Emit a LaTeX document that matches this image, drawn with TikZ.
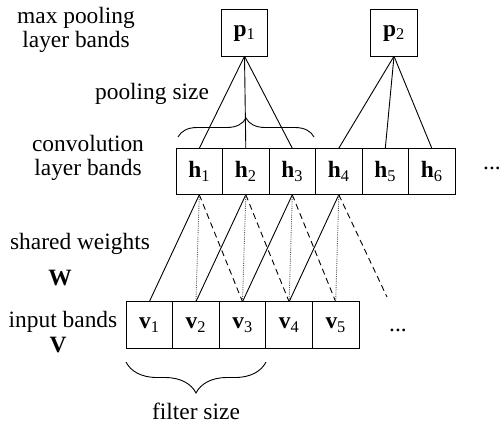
\documentclass[tikz,border=0pt]{standalone}
\usepackage{fontspec}
\setmainfont{Liberation Serif}
\usetikzlibrary{decorations.pathreplacing}

\begin{document}
\begin{tikzpicture}[x=1bp,y=-1bp,font=\fontsize{23.5}{24}\selectfont,
    band/.style={draw,line width=0.9bp,minimum width=46.5bp,minimum height=46.5bp,inner sep=0pt,outer sep=0pt},
    link/.style={line width=0.9bp},
    sameband/.style={black!65,line width=0.9bp,dash pattern=on 1bp off 1.2bp},
    nextband/.style={dashed,line width=0.9bp,dash pattern=on 6bp off 4bp}]
    \useasboundingbox (0,0) rectangle (503,424);

    % input bands
    \node[band] (v1) at (149.3,325) {\textbf{v}\textsubscript{1}};
    \node[band] (v2) at (195.9,325) {\textbf{v}\textsubscript{2}};
    \node[band] (v3) at (242.5,325) {\textbf{v}\textsubscript{3}};
    \node[band] (v4) at (289.1,325) {\textbf{v}\textsubscript{4}};
    \node[band] (v5) at (335.7,325) {\textbf{v}\textsubscript{5}};
    \coordinate (v6) at (387,297);
    \node (vdots) at (398,330) {...};

    % convolution bands
    \node[band] (h1) at (199.3,171.5) {\textbf{h}\textsubscript{1}};
    \node[band] (h2) at (245.8,171.5) {\textbf{h}\textsubscript{2}};
    \node[band] (h3) at (292.3,171.5) {\textbf{h}\textsubscript{3}};
    \node[band] (h4) at (338.8,171.5) {\textbf{h}\textsubscript{4}};
    \node[band] (h5) at (385.3,171.5) {\textbf{h}\textsubscript{5}};
    \node[band] (h6) at (431.8,171.5) {\textbf{h}\textsubscript{6}};
    \node[inner sep=1bp] (hdots) at (492,168) {...};

    % shared weights
    \path (h1.south) edge[link] (v1.north)
        edge[sameband] (v2.north)
        edge[nextband] (v3.north);
    \path (h2.south) edge[link] (v2.north)
        edge[sameband] (v3.north)
        edge[nextband] (v4.north);
    \path (h3.south) edge[link] (v3.north)
        edge[sameband] (v4.north)
        edge[nextband] (v5.north);
    \path (h4.south) edge[link] (v4.north)
        edge[sameband] (v5.north)
        edge[nextband] (v6);

    % max pooling bands
    \node[band] (p1) at (244.5,33) {\textbf{p}\textsubscript{1}};
    \node[band] (p2) at (394,33) {\textbf{p}\textsubscript{2}};
    \path (p1.south) edge[link] (h1.north)
        edge[link] (h2.north)
        edge[link] (h3.north);
    \path (p2.south) edge[link] (h4.north)
        edge[link] (h5.north)
        edge[link] (h6.north);

    % braces
    \draw[link,decorate,decoration={brace,amplitude=19bp}] (178,137) -- (314,137);
    \draw[link,decorate,decoration={brace,amplitude=31bp}] (266,362) -- (126,362);

    % labels
    \node[align=center] (poollabel) at (76,30) {max pooling\\layer bands};
    \node (poolsize) at (152,94) {pooling size};
    \node[align=center] (convlabel) at (88,158) {convolution\\layer bands};
    \node (sharedlabel) at (80,244) {shared weights};
    \node (wlabel) at (60,278) {\textbf{W}};
    \node (inlabel) at (63,322) {input bands};
    \node (vlabel) at (58,345) {\textbf{V}};
    \node (filtersize) at (196,411) {filter size};
\end{tikzpicture}
\end{document}
